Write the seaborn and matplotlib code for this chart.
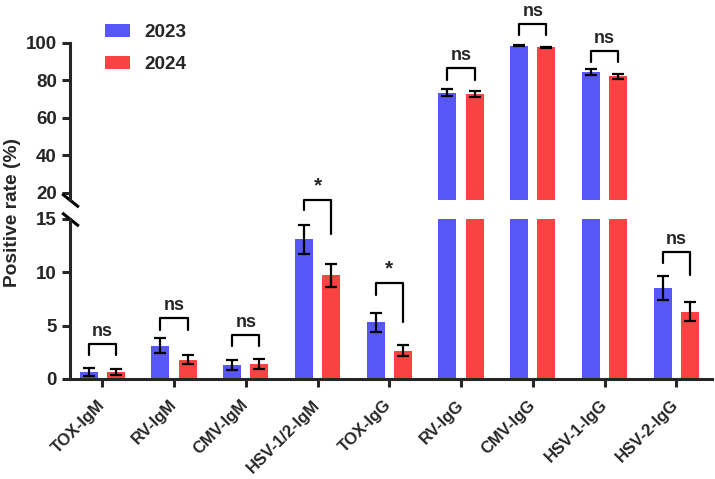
import numpy as np
import pandas as pd
import matplotlib
matplotlib.use("Agg")
import matplotlib.pyplot as plt
import seaborn as sns

categories = ["TOX-IgM", "RV-IgM", "CMV-IgM", "HSV-1/2-IgM", "TOX-IgG",
              "RV-IgG", "CMV-IgG", "HSV-1-IgG", "HSV-2-IgG"]
years = ["2023", "2024"]
rate_2023 = [0.65, 3.1, 1.3, 13.1, 5.3, 73.3, 98.4, 84.4, 8.5]
rate_2024 = [0.65, 1.8, 1.4, 9.7, 2.65, 72.6, 97.5, 82.1, 6.3]
err_2023 = [0.35, 0.7, 0.45, 1.35, 0.9, 1.9, 0.3, 1.5, 1.1]
err_2024 = [0.3, 0.45, 0.45, 1.05, 0.55, 1.8, 0.4, 1.4, 0.9]

# significance brackets: label, bracket height, left / right leg ends
sig_labels = ["ns", "ns", "ns", "*", "*", "ns", "ns", "ns", "ns"]
bracket_top = [3.25, 5.7, 4.1, 16.8, 9.0, 86.3, 110.0, 95.7, 11.9]
left_end = [2.2, 4.6, 3.1, 15.8, 7.9, 80.1, 104.1, 89.5, 10.85]
right_end = [2.2, 4.6, 3.1, 13.6, 5.3, 80.1, 104.1, 89.5, 9.75]

sns.set_style("ticks")
plt.rcParams['font.family'] = ['Liberation Sans', 'DejaVu Sans']
plt.rcParams['font.weight'] = 'bold'
plt.rcParams['axes.labelweight'] = 'bold'

df = pd.DataFrame({
    "category": categories * 2,
    "year": [years[0]] * len(categories) + [years[1]] * len(categories),
    "rate": rate_2023 + rate_2024,
})
errs = [err_2023, err_2024]
palette = {"2023": "#5757F5", "2024": "#F94242"}

fig = plt.figure(figsize=(7.15, 4.79), dpi=100)
ax_top = fig.add_axes([0.098, 0.582, 0.898, 0.329])
ax_bot = fig.add_axes([0.098, 0.209, 0.898, 0.334])

for ax in (ax_top, ax_bot):
    sns.barplot(data=df, x="category", y="rate", hue="year", palette=palette,
                width=0.76, gap=0.34, errorbar=None, saturation=1,
                linewidth=0, ax=ax, legend=(ax is ax_top))
    for cont, e in zip(ax.containers[:2], errs):
        xs = [b.get_x() + b.get_width() / 2 for b in cont]
        ys = [b.get_height() for b in cont]
        ax.errorbar(xs, ys, yerr=e, fmt='none', ecolor='black', elinewidth=1.6,
                    capsize=4, capthick=1.6, zorder=3)
    sns.despine(ax=ax)
    ax.set_xlim(-0.45, 8.5)
    ax.set_xlabel("")
    ax.set_ylabel("")
    for s in ax.spines.values():
        s.set_linewidth(2.2)
    ax.tick_params(width=2.2, length=6, labelsize=13.5)

ax_top.set_ylim(16, 100)
ax_top.set_yticks([20, 40, 60, 80, 100])
ax_top.spines['bottom'].set_visible(False)
ax_top.tick_params(axis='x', bottom=False, labelbottom=False)

ax_bot.set_ylim(0, 15)
ax_bot.set_yticks([0, 5, 10, 15])
ax_bot.set_xticks(range(len(categories)))
ax_bot.set_xticklabels(categories, rotation=45, ha='right', va='center',
                       rotation_mode='anchor', fontsize=12, fontweight='bold')
ax_bot.tick_params(axis='x', pad=11)
for lab in ax_top.get_yticklabels() + ax_bot.get_yticklabels():
    lab.set_fontweight('bold')

# brackets
for i, lab in enumerate(sig_labels):
    ax = ax_top if rate_2023[i] > 15 else ax_bot
    b1 = ax.containers[0][i]
    b2 = ax.containers[1][i]
    xl = b1.get_x() + b1.get_width() / 2
    xr = b2.get_x() + b2.get_width() / 2
    ax.plot([xl, xl, xr, xr], [left_end[i], bracket_top[i], bracket_top[i], right_end[i]],
            color='black', lw=1.6, clip_on=False, zorder=4)
    fs = 15 if lab == "*" else 13
    ax.annotate(lab, ((xl + xr) / 2, bracket_top[i]), xytext=(0, 3),
                textcoords='offset points', ha='center', va='bottom',
                fontsize=fs, fontweight='bold', annotation_clip=False)

# axis break marks
brk = [(-1, 0.8), (1, -0.8)]
ax_top.plot([0], [0], transform=ax_top.transAxes, marker=brk, markersize=12,
            mew=2.2, color='black', clip_on=False)
ax_bot.plot([0], [1], transform=ax_bot.transAxes, marker=brk, markersize=12,
            mew=2.2, color='black', clip_on=False)

fig.text(0.018, 0.557, "Positive rate (%)", rotation=90, va='center', ha='center',
         fontsize=13.8, fontweight='bold')

handles, labels = ax_top.get_legend_handles_labels()
ax_top.get_legend().remove()
fig.legend(handles, labels, loc='upper left', bbox_to_anchor=(105 / 715, 1 - 24 / 479),
           frameon=False, handlelength=1.3, handleheight=0.7,
           handletextpad=0.75, labelspacing=0.75, borderaxespad=0, borderpad=0,
           prop={'weight': 'bold', 'size': 13.7})

fig.savefig("out.png", dpi=100)
